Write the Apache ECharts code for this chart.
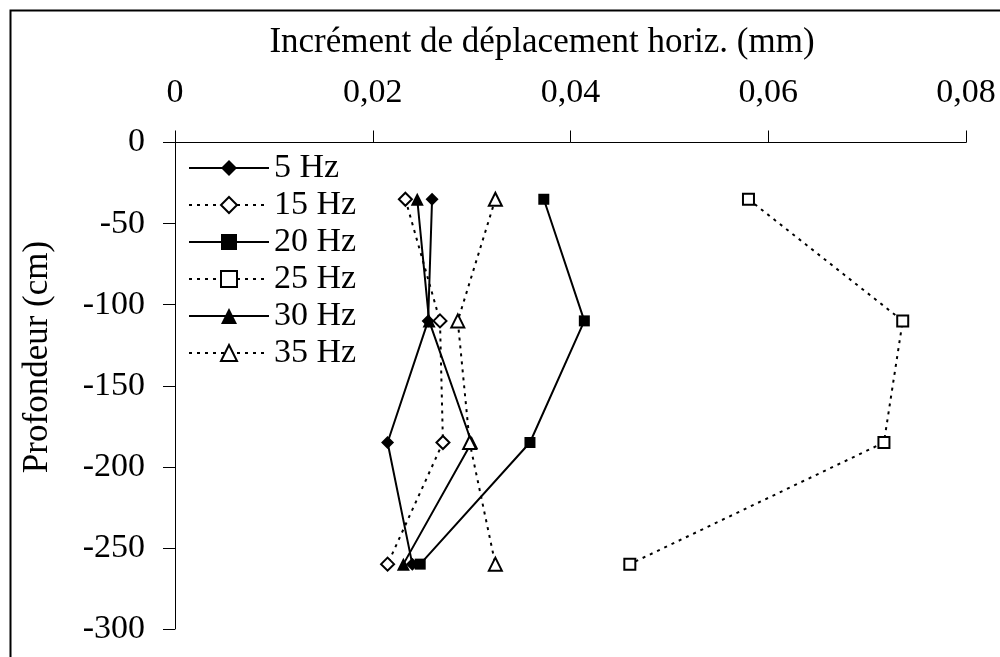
<!DOCTYPE html>
<html>
<head>
<meta charset="utf-8">
<script src="https://cdn.jsdelivr.net/npm/echarts@6/dist/echarts.min.js"></script>
<style>
html,body{margin:0;padding:0;background:#fff;}
#chart{width:1000px;height:657px;}
</style>
</head>
<body>
<div id="chart"></div>
<script>
var depths = [-35, -110, -185, -260];
var hz5  = [0.0260, 0.0256, 0.0215, 0.0240];
var hz15 = [0.0233, 0.0268, 0.0271, 0.0215];
var hz20 = [0.0373, 0.0414, 0.0359, 0.0248];
var hz25 = [0.0580, 0.0736, 0.0717, 0.0460];
var hz30 = [0.0245, 0.0257, 0.0300, 0.0231];
var hz35 = [0.0324, 0.0286, 0.0298, 0.0324];
var seriesNames = ['5 Hz', '15 Hz', '20 Hz', '25 Hz', '30 Hz', '35 Hz'];
var xTickLabels = ['0', '0,02', '0,04', '0,06', '0,08'];
var xTitle = 'Incrément de déplacement horiz. (mm)';
var yTitle = 'Profondeur (cm)';

var FONT = '"Liberation Serif", "Times New Roman", serif';
function pairs(xs){ return xs.map(function(v,i){ return [v, depths[i]]; }); }

var styles = [
  {sym:'diamond', size:13, filled:true, dash:'solid'},
  {sym:'diamond', size:13, filled:false, dash:[3,5]},
  {sym:'rect', size:11, filled:true, dash:'solid'},
  {sym:'rect', size:11, filled:false, dash:[3,5]},
  {sym:'triangle', size:13, filled:true, dash:'solid'},
  {sym:'triangle', size:13, filled:false, dash:[3,5]}
];
var allData = [hz5, hz15, hz20, hz25, hz30, hz35];

var series = allData.map(function(d, i){
  var s = styles[i];
  return {
    name: seriesNames[i],
    type: 'line',
    data: pairs(d),
    symbol: s.sym,
    symbolSize: s.size,
    showAllSymbol: true,
    lineStyle: {color:'#000', width:2, type:s.dash},
    itemStyle: {color: s.filled ? '#000' : '#fff', borderColor:'#000', borderWidth: s.filled ? 0 : 2},
    emphasis: {disabled:true},
    animation: false
  };
});

var chart = echarts.init(document.getElementById('chart'), null, {renderer:'canvas'});
chart.setOption({
  backgroundColor:'#fff',
  animation:false,
  textStyle:{fontFamily:FONT, color:'#000'},
  grid:{left:175, top:142.5, right:34, bottom:28, containLabel:false},
  graphic:[
    {type:'rect', left:8, top:8, shape:{width:1100, height:700}, style:{fill:'none', stroke:'#000', lineWidth:2}, z:-1},
    {type:'text', x:542, y:43, style:{text:xTitle, font:'35px ' + FONT, fill:'#000', textAlign:'center', textVerticalAlign:'middle'}},
    {type:'text', x:38, y:357, rotation:Math.PI/2, style:{text:yTitle, font:'35px ' + FONT, fill:'#000', textAlign:'center', textVerticalAlign:'middle'}}
  ],
  legend:{
    orient:'vertical', left:183, top:146,
    itemWidth:80, itemHeight:20, itemGap:3,
    textStyle:{fontFamily:FONT, fontSize:34, color:'#000', lineHeight:34, padding:[0,0,0,0]},
    data: seriesNames
  },
  xAxis:{
    type:'value', position:'top', min:0, max:0.08, interval:0.02,
    axisLine:{onZero:false, lineStyle:{color:'#000', width:1}},
    axisTick:{show:true, inside:false, length:12, lineStyle:{color:'#000'}},
    splitLine:{show:false},
    axisLabel:{margin:32, fontFamily:FONT, fontSize:34, color:'#000',
      formatter:function(v){ return xTickLabels[Math.round(v/0.02)]; }}
  },
  yAxis:{
    type:'value', min:-300, max:0, interval:50,
    axisLine:{show:true, onZero:false, lineStyle:{color:'#000', width:1}},
    axisTick:{show:true, inside:false, length:12, lineStyle:{color:'#000'}},
    splitLine:{show:false},
    axisLabel:{margin:30, fontFamily:FONT, fontSize:34, color:'#000'}
  },
  series: series
});
</script>
</body>
</html>
